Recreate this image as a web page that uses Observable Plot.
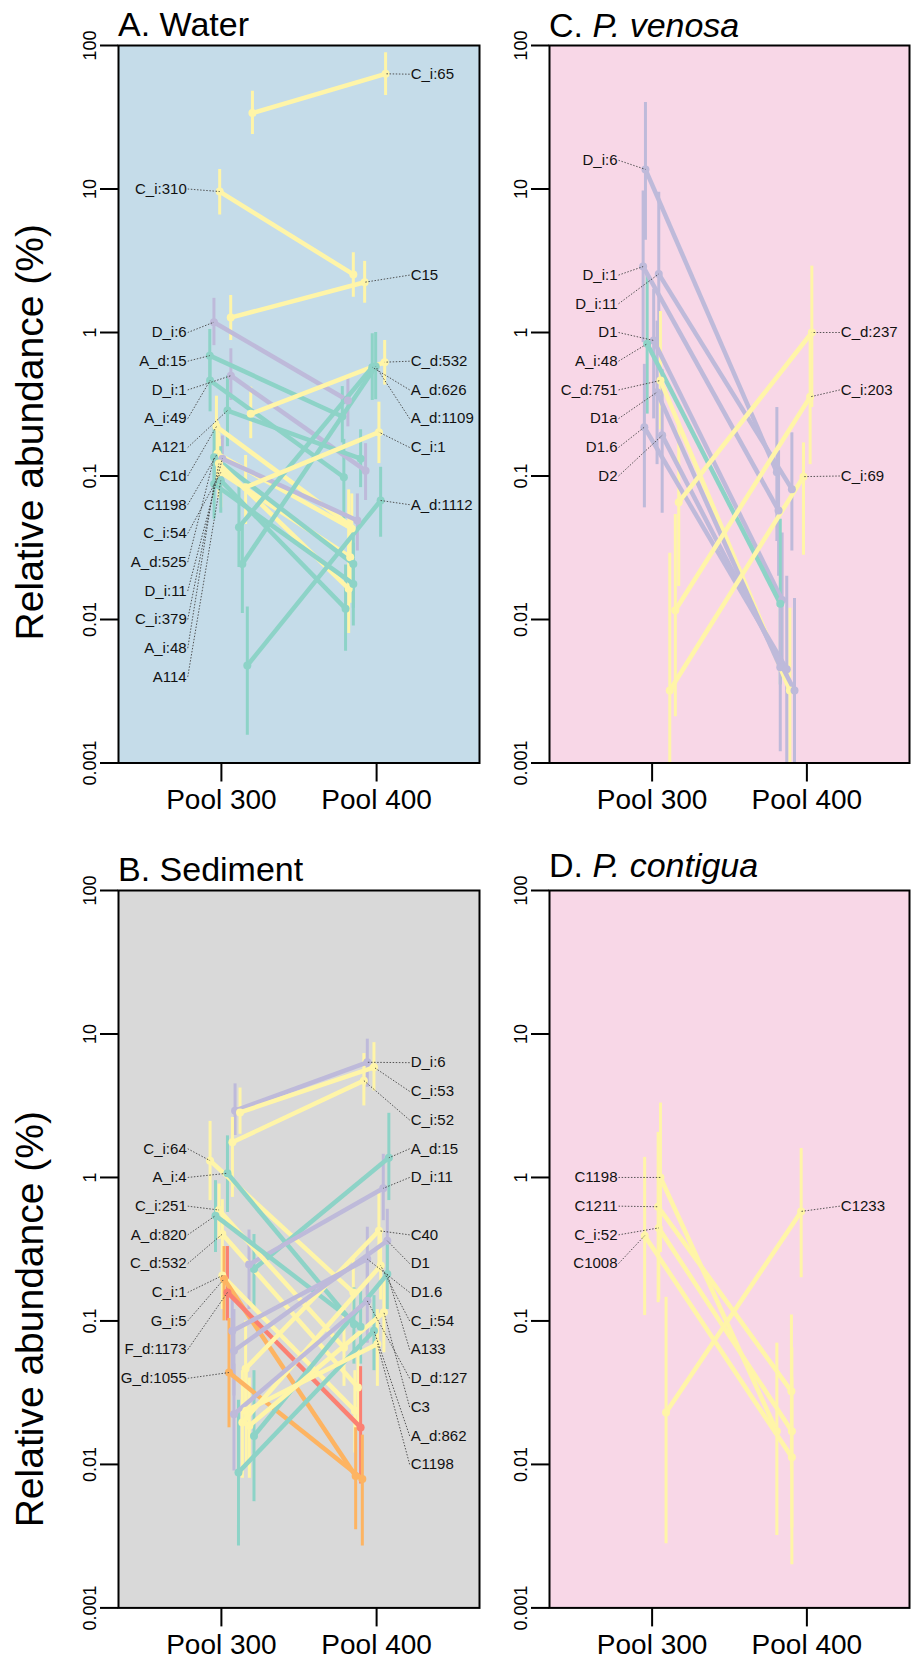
<!DOCTYPE html>
<html><head><meta charset="utf-8">
<script src="https://cdn.jsdelivr.net/npm/d3@7"></script>
<script src="https://cdn.jsdelivr.net/npm/@observablehq/plot@0.6"></script>
<style>
html,body{margin:0;padding:0;background:#fff;}
#fig{position:relative;width:911px;height:1661px;overflow:hidden;font-family:"Liberation Sans",Arial,Helvetica,sans-serif;}
.panel{position:absolute;}
.title{position:absolute;font-size:34px;line-height:34px;color:#000;white-space:nowrap;font-family:"Liberation Sans",Arial,Helvetica,sans-serif;}
</style></head><body><div id="fig"></div>
<script>
// ---------- Panel A: Water ----------
const waterNames = ["C_i:65","C_i:310","C15","D_i:6","A_d:15","D_i:1","A_i:49","A121","C1d","C1198","C_i:54","A_d:525","D_i:11","C_i:379","A_i:48","A114","C_d:532","A_d:626","A_d:1109","C_i:1","A_d:1112"];
const waterX300 = [1.20,0.989,1.06,0.952,0.925,1.061,0.927,1.039,0.968,0.974,0.996,0.953,1.006,0.984,0.953,0.996,1.189,1.113,1.135,1.156,1.167];
const waterV300 = [33.8,9.6,1.27,1.18,0.69,0.50,0.463,0.286,0.221,0.143,0.106,0.135,0.132,0.122,0.088,0.093,0.271,0.044,0.0244,0.0835,0.00478];
const waterLo300 = [24,6.6,0.88,0.81,0.45,0.336,0.28,0.16,0.13,0.085,0.06,0.08,0.09,0.07,0.05,0.055,0.182,0.023,0.011,0.046,0.00156];
const waterHi300 = [48,13.7,1.81,1.73,1.05,0.77,0.72,0.5,0.36,0.24,0.18,0.22,0.19,0.2,0.15,0.16,0.416,0.084,0.046,0.139,0.0122];
const waterX400 = [2.058,1.85,1.923,1.815,1.779,1.929,1.789,1.897,1.82,1.84,1.83,1.85,1.876,1.82,1.85,1.80,2.052,1.972,1.994,2.015,2.026];
const waterV400 = [63.5,2.54,2.24,0.336,0.26,0.109,0.098,0.132,0.046,0.043,0.0272,0.0244,0.049,0.0164,0.0177,0.0119,0.621,0.573,0.58,0.202,0.0675];
const waterLo400 = [44.8,1.76,1.6,0.22,0.17,0.0675,0.05,0.083,0.025,0.024,0.013,0.012,0.03,0.008,0.009,0.006,0.43,0.336,0.34,0.122,0.0375];
const waterHi400 = [89,3.59,3.13,0.475,0.42,0.168,0.18,0.21,0.08,0.075,0.05,0.045,0.075,0.032,0.034,0.024,0.88,0.98,1.0,0.327,0.115];
const waterLabelY = [63.1,10,2.512,1,0.631,0.398,0.251,0.158,0.1,0.0631,0.0398,0.0251,0.0158,0.01,0.00631,0.00398,0.631,0.398,0.251,0.158,0.0631];

// ---------- Panel B: Sediment ----------
const sedNames = ["D_i:6","C_i:53","C_i:52","C_i:64","A_i:4","A_d:15","D_i:11","C_i:251","A_d:820","C_d:532","C_i:1","G_i:5","F_d:1173","G_d:1055","C40","D1","D1.6","C_i:54","A133","D_d:127","C3","A_d:862","C1198"];
const sedX300 = [1.088,1.12,1.071,0.927,1.039,1.21,1.178,0.985,0.962,1.006,1.006,1.017,1.039,1.049,1.156,1.081,1.07,1.135,1.21,1.081,1.18,1.11,1.16];
const sedV300 = [2.92,2.84,1.76,1.31,1.07,0.23,0.247,0.593,0.542,0.403,0.207,0.196,0.158,0.0437,0.0465,0.062,0.085,0.0196,0.0158,0.0224,0.0186,0.0088,0.0237];
const sedLo300 = [1.96,2.0,0.726,0.69,0.57,0.12,0.12,0.37,0.3,0.22,0.12,0.1,0.1,0.018,0.02,0.03,0.04,0.008,0.0055,0.009,0.008,0.0027,0.01];
const sedHi300 = [4.49,4.2,2.62,2.46,1.95,0.4,0.43,0.9,0.95,0.7,0.33,0.33,0.33,0.104,0.1,0.12,0.16,0.045,0.045,0.05,0.04,0.028,0.05];
const sedX400 = [1.94,1.983,1.918,1.85,1.854,2.079,2.043,1.79,1.897,1.88,1.86,1.865,1.897,1.908,2.015,2.069,1.94,2.026,2.069,1.94,2.047,1.983,2.005];
const sedV400 = [6.35,5.86,4.73,0.158,0.095,1.37,0.84,0.065,0.091,0.0344,0.0237,0.0083,0.0181,0.0079,0.425,0.362,0.27,0.243,0.212,0.138,0.115,0.0855,0.069];
const sedLo400 = [4.25,4.0,3.15,0.09,0.05,0.69,0.5,0.035,0.05,0.018,0.012,0.0035,0.0073,0.0027,0.22,0.2,0.15,0.14,0.12,0.07,0.06,0.045,0.035];
const sedHi400 = [9.2,8.7,7.3,0.27,0.17,2.8,1.45,0.12,0.16,0.065,0.045,0.018,0.048,0.016,0.77,0.6,0.45,0.4,0.37,0.25,0.2,0.15,0.12];
const sedLabelY = [6.31,3.98,2.512,1.585,1,1.585,1,0.631,0.398,0.251,0.158,0.1,0.0631,0.0398,0.398,0.251,0.158,0.1,0.0631,0.0398,0.0251,0.0158,0.01];

// ---------- Panel C: P. venosa ----------
const venNames = ["D_i:6","D_i:1","D_i:11","D1","A_i:48","C_d:751","D1a","D1.6","D2","C_d:237","C_i:203","C_i:69"];
const venX300 = [0.957,0.942,1.043,1.01,0.968,1.054,1.032,0.95,1.065,1.172,1.15,1.114];
const venV300 = [13.7,2.88,2.56,0.88,0.834,0.463,0.384,0.219,0.192,0.0657,0.0116,0.0032];
const venLo300 = [4.4,0.85,0.69,0.25,0.27,0.21,0.12,0.06,0.055,0.017,0.0021,0.0005];
const venHi300 = [40,9.7,9.5,2.0,2.6,1.4,1.2,0.6,0.55,0.24,0.054,0.029];
const venX400 = [1.806,1.817,1.903,1.84,1.828,1.89,1.828,1.87,1.92,2.032,2.021,1.978];
const venV400 = [0.106,0.0575,0.081,0.0137,0.0129,0.0032,0.00465,0.0045,0.0032,1.0,0.356,0.099];
const venLo400 = [0.035,0.02,0.03,0.004,0.0035,0.0008,0.0012,0.0009,0.0007,0.3,0.12,0.028];
const venHi400 = [0.3,0.15,0.2,0.04,0.05,0.012,0.015,0.02,0.014,2.9,1.0,0.17];
const venLabelY = [15.85,2.512,1.585,1,0.631,0.398,0.251,0.158,0.1,1,0.398,0.1];

// ---------- Panel D: P. contigua ----------
const conNames = ["C1198","C1211","C_i:52","C1008","C1233"];
const conX300 = [1.054,1.039,1.043,0.952,1.09];
const conV300 = [1.0,0.625,0.445,0.393,0.023];
const conLo300 = [0.3,0.134,0.14,0.109,0.0028];
const conHi300 = [3.3,2.06,1.3,1.38,0.146];
const conX400 = [1.806,1.9,1.903,1.903,1.963];
const conV400 = [0.017,0.0323,0.017,0.0112,0.58];
const conLo400 = [0.0032,0.009,0.0036,0.002,0.2];
const conHi400 = [0.07,0.11,0.065,0.04,1.59];
const conLabelY = [1,0.631,0.398,0.251,0.631];

// ---------- axes / categories ----------
const poolTicks = [1, 2];
const poolLabels = ["Pool 300", "Pool 400"];
const yTicks = [0.001, 0.01, 0.1, 1, 10, 100];
const yTickLabels = ["0.001", "0.01", "0.1", "1", "10", "100"];
const clades = ["A", "C", "D", "F", "G"];
const cladeColors = ["#8dd3c7", "#fff5a8", "#bebada", "#fb8072", "#fdb462"];

const fig = document.getElementById("fig");

function panel(cfg) {
  const rows = cfg.names.map((name, i) => ({
    name, clade: name[0],
    x300: cfg.x300[i], v300: cfg.v300[i], lo300: cfg.lo300[i], hi300: cfg.hi300[i],
    x400: cfg.x400[i], v400: cfg.v400[i], lo400: cfg.lo400[i], hi400: cfg.hi400[i],
    ly: cfg.labY[i]
  }));
  const points = rows.flatMap(r => [
    {x: r.x300, v: r.v300, lo: r.lo300, hi: r.hi300, clade: r.clade},
    {x: r.x400, v: r.v400, lo: r.lo400, hi: r.hi400, clade: r.clade}
  ]);
  const labels = rows.map(r => {
    const left = r.v300 >= r.v400;
    return {name: r.name, left, lx: left ? 0.783 : 2.213, ly: r.ly,
            px: left ? r.x300 : r.x400, pv: left ? r.v300 : r.v400};
  });
  const marks = [
    Plot.frame({fill: cfg.bg}),
    Plot.ruleX(points, {x: "x", y1: "lo", y2: "hi", stroke: "clade", strokeWidth: 3, clip: true}),
    Plot.link(rows, {x1: "x300", y1: "v300", x2: "x400", y2: "v400", stroke: "clade", strokeWidth: 4.5, clip: true}),
    Plot.dot(points, {x: "x", y: "v", r: 4, fill: "clade", clip: true}),
    Plot.link(labels, {x1: "lx", y1: "ly", x2: "px", y2: "pv", stroke: "#444", strokeWidth: 0.9, strokeDasharray: "1.5,1.6"}),
    Plot.text(labels.filter(d => d.left), {x: "lx", y: "ly", text: "name", textAnchor: "end", dx: -1, fontSize: 15, fill: "#111"}),
    Plot.text(labels.filter(d => !d.left), {x: "lx", y: "ly", text: "name", textAnchor: "start", dx: 1, fontSize: 15, fill: "#111"}),
    Plot.frame({stroke: "#000", strokeWidth: 2}),
    Plot.axisY({ticks: yTicks, tickFormat: d => yTickLabels[yTicks.indexOf(d)], tickSize: 18, tickRotate: -90, tickPadding: 5, fontSize: 18, strokeWidth: 2, label: null}),
    Plot.axisX({ticks: poolTicks, tickFormat: d => poolLabels[poolTicks.indexOf(d)], tickSize: 19, tickPadding: 7, fontSize: 28, strokeWidth: 2, label: null})
  ];
  if (cfg.yTitle) {
    marks.push(Plot.text([cfg.yTitle], {frameAnchor: "left", dx: -76, dy: cfg.yTitleDy, rotate: -90, textAnchor: "middle", lineAnchor: "bottom", fontSize: "39px", fill: "#000"}));
  }
  const svg = Plot.plot({
    width: cfg.w, height: cfg.h,
    marginLeft: cfg.ml, marginRight: cfg.mr, marginTop: cfg.mt, marginBottom: cfg.mb,
    x: {type: "linear", domain: [0.337, 2.663]},
    y: {type: "log", domain: [0.001, 100]},
    color: {domain: clades, range: cladeColors},
    style: {fontFamily: "'Liberation Sans', Arial, Helvetica, sans-serif", background: "transparent", color: "#000", overflow: "visible"},
    marks
  });
  const div = document.createElement("div");
  div.className = "panel";
  div.style.left = cfg.left + "px";
  div.style.top = cfg.top + "px";
  div.appendChild(svg);
  fig.appendChild(div);
  const t = document.createElement("div");
  t.className = "title";
  t.innerHTML = cfg.title;
  t.style.left = cfg.tl + "px";
  t.style.top = cfg.tt + "px";
  fig.appendChild(t);
}

const yTitle = "Relative abundance (%)";
panel({names: waterNames, x300: waterX300, v300: waterV300, lo300: waterLo300, hi300: waterHi300,
  x400: waterX400, v400: waterV400, lo400: waterLo400, hi400: waterHi400, labY: waterLabelY,
  bg: "#c5dce9", left: 0, top: 0, w: 490, h: 820, ml: 118, mr: 11, mt: 45, mb: 57.5,
  yTitle, yTitleDy: 28, title: "A. Water", tl: 118, tt: 7});
panel({names: sedNames, x300: sedX300, v300: sedV300, lo300: sedLo300, hi300: sedHi300,
  x400: sedX400, v400: sedV400, lo400: sedLo400, hi400: sedHi400, labY: sedLabelY,
  bg: "#d9d9d9", left: 0, top: 820, w: 490, h: 841, ml: 118, mr: 11, mt: 70, mb: 53.6,
  yTitle, yTitleDy: 70, title: "B. Sediment", tl: 118, tt: 852});
panel({names: venNames, x300: venX300, v300: venV300, lo300: venLo300, hi300: venHi300,
  x400: venX400, v400: venV400, lo400: venLo400, hi400: venHi400, labY: venLabelY,
  bg: "#f8d7e7", left: 490, top: 0, w: 421, h: 820, ml: 59, mr: 2, mt: 45, mb: 57.5,
  yTitle: null, title: "C. <i>P. venosa</i>", tl: 549, tt: 8});
panel({names: conNames, x300: conX300, v300: conV300, lo300: conLo300, hi300: conHi300,
  x400: conX400, v400: conV400, lo400: conLo400, hi400: conHi400, labY: conLabelY,
  bg: "#f8d7e7", left: 490, top: 820, w: 421, h: 841, ml: 59, mr: 2, mt: 70, mb: 53.6,
  yTitle: null, title: "D. <i>P. contigua</i>", tl: 549, tt: 848});
</script></body></html>
